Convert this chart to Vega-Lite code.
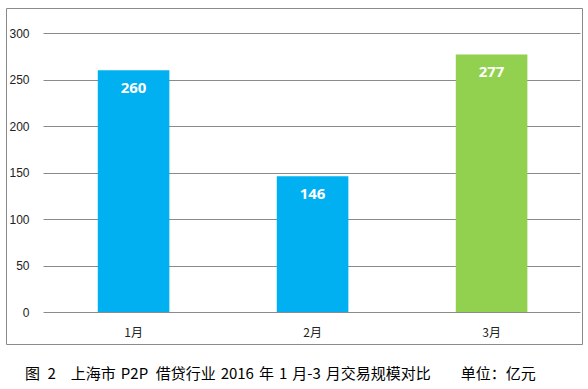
{
  "$schema": "https://vega.github.io/schema/vega-lite/v6.json",
  "width": 576,
  "height": 336,
  "autosize": {"type": "none"},
  "padding": {"left": 6, "top": 8, "right": 6, "bottom": 45},
  "background": "white",
  "data": {"values": [
    {"month": "1月", "value": 260, "color": "blue"},
    {"month": "2月", "value": 146, "color": "blue"},
    {"month": "3月", "value": 277, "color": "green"}
  ]},
  "title": {
    "text": "图\u20022\u2002\u2002上海市\u2004P2P\u2002借贷行业\u20042016\u2004年\u20041\u2004月-3\u2004月交易规模对比\u2002\u2002\u2002\u2002单位：亿元",
    "orient": "bottom",
    "anchor": "start",
    "frame": "group",
    "dx": 19,
    "offset": 23,
    "fontSize": 15,
    "fontWeight": "normal",
    "font": "Noto Sans CJK SC",
    "color": "#000000",
    "baseline": "top"
  },
  "config": {
    "view": {"stroke": "#8a8a8a", "strokeWidth": 1}
  },
  "encoding": {
    "x": {
      "field": "month",
      "type": "nominal",
      "sort": null,
      "scale": {"range": [37, 574], "paddingInner": 0.6, "paddingOuter": 0.3, "align": 0.51},
      "axis": {
        "title": null,
        "labelAngle": 0,
        "domain": false,
        "ticks": false,
        "offset": -32,
        "labelPadding": 20,
        "labelBaseline": "middle",
        "labelFontSize": 12,
        "labelFont": "Noto Sans CJK SC",
        "labelColor": "#222222"
      }
    }
  },
  "layer": [
    {
      "mark": {"type": "bar"},
      "encoding": {
        "y": {
          "field": "value",
          "type": "quantitative",
          "scale": {"domain": [-34.4, 326.9], "nice": false, "zero": false},
          "axis": {
            "title": null,
            "values": [0, 50, 100, 150, 200, 250, 300],
            "domain": false,
            "ticks": false,
            "grid": true,
            "gridColor": "#8a8a8a",
            "gridWidth": 1,
            "labelAlign": "right",
            "labelPadding": -23,
            "labelFontSize": 12,
            "labelFont": "Liberation Sans",
            "labelColor": "#222222"
          }
        },
        "y2": {"datum": 0},
        "color": {
          "field": "color",
          "type": "nominal",
          "scale": {"domain": ["blue", "green"], "range": ["#00B0F0", "#92D050"]},
          "legend": null
        }
      }
    },
    {
      "mark": {"type": "text", "baseline": "top", "dy": 11, "color": "white", "fontSize": 15, "fontWeight": "bold", "font": "Open Sans"},
      "encoding": {
        "y": {"field": "value", "type": "quantitative"},
        "text": {"field": "value", "type": "quantitative"}
      }
    }
  ]
}
